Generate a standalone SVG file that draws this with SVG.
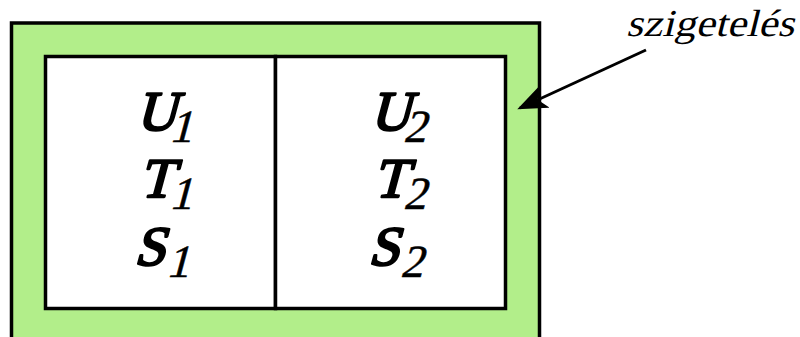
<svg xmlns="http://www.w3.org/2000/svg" width="800" height="337" viewBox="0 0 800 337">
<style>
.box{stroke:#000;stroke-width:3.5}
.lbl{font-family:'Liberation Serif',serif;font-size:38px;fill:#000}
.v{font-family:'Liberation Serif',serif;font-size:36px;fill:#000;stroke:#000;stroke-width:1.5;stroke-linejoin:round}
.s{font-family:'Liberation Serif',serif;font-size:36px;fill:#000;stroke:#000;stroke-width:0.4}
</style>
<defs>
<marker id="ah" markerWidth="10" markerHeight="8" refX="9" refY="4" orient="auto" markerUnits="strokeWidth">
<path d="M0,0 L10,4 L0,8 L2.5,4 Z" fill="#000"/>
</marker>
</defs>
<g id="insulation">
<rect class="box" x="11.5" y="23" width="528" height="330" fill="#B2EE8A"/>
</g>
<g id="cell1">
<rect class="box" x="45.5" y="56.5" width="230" height="252" fill="#fff"/>
<text class="v" transform="translate(136,130) skewX(-15) scale(1.55)">U</text>
<text class="s" transform="translate(169,142) skewX(-15) scale(1.28)">1</text>
<text class="v" transform="translate(139,197) skewX(-15) scale(1.55)">T</text>
<text class="s" transform="translate(169,209) skewX(-15) scale(1.28)">1</text>
<text class="v" transform="translate(134,265) skewX(-15) scale(1.55)">S</text>
<text class="s" transform="translate(166,277) skewX(-15) scale(1.28)">1</text>
</g>
<g id="cell2">
<rect class="box" x="275.5" y="56.5" width="230" height="252" fill="#fff"/>
<text class="v" transform="translate(370,130) skewX(-15) scale(1.55)">U</text>
<text class="s" transform="translate(403,142) skewX(-15) scale(1.28)">2</text>
<text class="v" transform="translate(373,197) skewX(-15) scale(1.55)">T</text>
<text class="s" transform="translate(403,209) skewX(-15) scale(1.28)">2</text>
<text class="v" transform="translate(368,265) skewX(-15) scale(1.55)">S</text>
<text class="s" transform="translate(400,277) skewX(-15) scale(1.28)">2</text>
</g>
<g id="label">
<text class="lbl" transform="translate(626,36) skewX(-14)" textLength="168" lengthAdjust="spacingAndGlyphs">szigetelés</text>
</g>
<g id="connectors">
<line x1="646" y1="50" x2="520" y2="108" stroke="#000" stroke-width="3" marker-end="url(#ah)"/>
</g>
</svg>
